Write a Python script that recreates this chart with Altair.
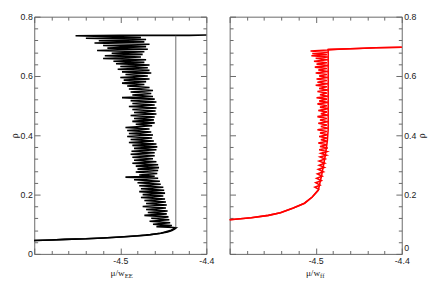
import altair as alt
import pandas as pd

W = 177
H = 244
SANS = "Liberation Sans"
SERIF = "Liberation Serif"
AX = "#666666"
TXT = "#222222"

X_LABELS = [-4.5, -4.4]
X_TICKS = [-4.6, -4.58, -4.56, -4.54, -4.52, -4.5, -4.48, -4.46, -4.44, -4.42, -4.4]
Y_LABELS = [0, 0.2, 0.4, 0.6, 0.8]
Y_TICKS = [0, 0.04, 0.08, 0.12, 0.16, 0.2, 0.24, 0.28, 0.32, 0.36, 0.4, 0.44, 0.48,
           0.52, 0.56, 0.6, 0.64, 0.68, 0.72, 0.76, 0.8]

# ---- left panel (black) ----
LEFT_ADS_MU = [-4.600, -4.580, -4.564, -4.540, -4.520, -4.500, -4.490, -4.470, -4.453,
               -4.445, -4.440, -4.4365, -4.435]
LEFT_ADS_RHO = [0.045, 0.047, 0.049, 0.051, 0.054, 0.057, 0.059, 0.063, 0.070,
                0.074, 0.079, 0.084, 0.090]
LEFT_JUMP_MU = [-4.4355, -4.4355]
LEFT_JUMP_RHO = [0.090, 0.736]

LEFT_DES_MU = [
    -4.400, -4.420, -4.450, -4.500, -4.552,
    -4.476, -4.540, -4.470, -4.525, -4.472, -4.530, -4.466, -4.520, -4.470, -4.515,
    -4.468, -4.527, -4.472, -4.510, -4.474, -4.518, -4.476, -4.520, -4.470, -4.508,
    -4.472, -4.505, -4.466, -4.500, -4.468, -4.503, -4.466, -4.498, -4.464, -4.494,
    -4.468, -4.500, -4.466, -4.496, -4.470, -4.498, -4.472, -4.492, -4.466, -4.490,
    -4.462, -4.488, -4.464, -4.486, -4.462, -4.498, -4.460, -4.488, -4.458, -4.486,
    -4.460, -4.490, -4.458, -4.486, -4.459, -4.484, -4.458, -4.488, -4.460, -4.484,
    -4.461, -4.486, -4.460, -4.482, -4.463, -4.494, -4.466, -4.492, -4.464, -4.490,
    -4.462, -4.492, -4.463, -4.488, -4.461, -4.490, -4.458, -4.486, -4.457, -4.484,
    -4.458, -4.487, -4.460, -4.488, -4.460, -4.486, -4.462, -4.484, -4.458, -4.486,
    -4.456, -4.482, -4.455, -4.480, -4.456, -4.482, -4.457, -4.478, -4.460, -4.494,
    -4.456, -4.484, -4.454, -4.480, -4.453, -4.478, -4.450, -4.476, -4.449, -4.478,
    -4.448, -4.474, -4.450, -4.476, -4.448, -4.472, -4.447, -4.470, -4.446, -4.474,
    -4.447, -4.470, -4.445, -4.468, -4.446, -4.472, -4.444, -4.464, -4.443, -4.466,
    -4.442, -4.462, -4.440, -4.458, -4.438,
    -4.4355, -4.441, -4.447, -4.453, -4.465, -4.480, -4.500, -4.520, -4.540, -4.564, -4.580, -4.600]
LEFT_DES_RHO = [
    0.738, 0.737, 0.737, 0.737, 0.736,
    0.730, 0.727, 0.723, 0.719, 0.715, 0.711, 0.707, 0.703, 0.699, 0.694,
    0.690, 0.686, 0.682, 0.677, 0.673, 0.668, 0.664, 0.659, 0.655, 0.650,
    0.646, 0.641, 0.637, 0.632, 0.628, 0.623, 0.619, 0.614, 0.610, 0.605,
    0.600, 0.595, 0.590, 0.586, 0.581, 0.576, 0.571, 0.566, 0.561, 0.556,
    0.551, 0.546, 0.541, 0.536, 0.531, 0.527, 0.522, 0.517, 0.512, 0.507,
    0.502, 0.497, 0.492, 0.487, 0.482, 0.477, 0.472, 0.467, 0.462, 0.457,
    0.452, 0.447, 0.442, 0.437, 0.432, 0.426, 0.421, 0.416, 0.411, 0.406,
    0.401, 0.396, 0.391, 0.386, 0.381, 0.376, 0.371, 0.366, 0.361, 0.356,
    0.351, 0.346, 0.341, 0.336, 0.331, 0.326, 0.321, 0.316, 0.311, 0.306,
    0.301, 0.296, 0.291, 0.286, 0.281, 0.276, 0.271, 0.266, 0.262, 0.259,
    0.255, 0.250, 0.245, 0.240, 0.235, 0.230, 0.225, 0.220, 0.215, 0.210,
    0.205, 0.200, 0.195, 0.190, 0.185, 0.180, 0.175, 0.170, 0.165, 0.160,
    0.155, 0.150, 0.145, 0.140, 0.135, 0.130, 0.125, 0.120, 0.115, 0.110,
    0.105, 0.100, 0.096, 0.092, 0.089,
    0.088, 0.080, 0.075, 0.070, 0.065, 0.061, 0.057, 0.054, 0.051, 0.049, 0.047, 0.045]

# ---- right panel (red) ----
RIGHT_ADS_MU = [-4.600, -4.575, -4.555, -4.541, -4.526, -4.513, -4.504, -4.497, -4.493,
                -4.489, -4.4865, -4.4855, -4.4855, -4.470, -4.450, -4.430, -4.400]
RIGHT_ADS_RHO = [0.115, 0.122, 0.130, 0.139, 0.155, 0.171, 0.192, 0.214, 0.267,
                 0.330, 0.380, 0.420, 0.689, 0.691, 0.693, 0.695, 0.697]

RIGHT_DES_MU = [
    -4.400, -4.430, -4.460, -4.4855,
    -4.486, -4.506, -4.486, -4.504, -4.487, -4.505, -4.486, -4.500, -4.486, -4.502,
    -4.487, -4.499, -4.486, -4.501, -4.487, -4.497, -4.486, -4.500, -4.487, -4.496,
    -4.486, -4.499, -4.487, -4.498, -4.486, -4.500, -4.487, -4.496, -4.486, -4.498,
    -4.487, -4.495, -4.486, -4.499, -4.487, -4.496, -4.486, -4.498, -4.487, -4.495,
    -4.486, -4.497, -4.487, -4.494, -4.486, -4.498, -4.487, -4.495, -4.486, -4.497,
    -4.487, -4.494, -4.486, -4.498, -4.487, -4.495, -4.486, -4.496, -4.487, -4.494,
    -4.486, -4.497, -4.487, -4.495, -4.486, -4.496, -4.487, -4.494,
    -4.4875, -4.495, -4.489, -4.496, -4.4895, -4.496, -4.490, -4.497, -4.491, -4.498,
    -4.4925, -4.499, -4.4935, -4.500, -4.495, -4.501, -4.4965,
    -4.504, -4.513, -4.526, -4.541, -4.555, -4.575, -4.600]
RIGHT_DES_RHO = [
    0.697, 0.695, 0.692, 0.689,
    0.688, 0.684, 0.680, 0.676, 0.672, 0.668, 0.664, 0.660, 0.655, 0.650,
    0.645, 0.640, 0.635, 0.630, 0.625, 0.620, 0.615, 0.610, 0.605, 0.600,
    0.595, 0.590, 0.585, 0.579, 0.574, 0.569, 0.564, 0.558, 0.553, 0.548,
    0.543, 0.537, 0.532, 0.527, 0.522, 0.516, 0.511, 0.506, 0.500, 0.495,
    0.490, 0.484, 0.479, 0.473, 0.468, 0.463, 0.457, 0.452, 0.446, 0.441,
    0.435, 0.430, 0.424, 0.419, 0.413, 0.408, 0.402, 0.396, 0.391, 0.385,
    0.380, 0.374, 0.368, 0.362, 0.357, 0.351, 0.345, 0.339,
    0.333, 0.327, 0.320, 0.313, 0.306, 0.299, 0.292, 0.285, 0.277, 0.270,
    0.262, 0.255, 0.247, 0.240, 0.232, 0.225, 0.218,
    0.192, 0.171, 0.155, 0.139, 0.130, 0.122, 0.115]


def table(*branches):
    rows = []
    for name, mus, rhos in branches:
        for i, (m, r) in enumerate(zip(mus, rhos)):
            rows.append({"mu": m, "rho": r, "branch": name, "i": i})
    return pd.DataFrame(rows)


X_MAJOR = "abs(datum.value*10 - round(datum.value*10)) < 0.01"
Y_MAJOR = "abs(datum.value*5 - round(datum.value*5)) < 0.01"


def tick_axis(orient, values, test, offset):
    return alt.Axis(orient=orient, offset=offset, values=values, labels=False,
                    domain=False, grid=False, title=None, ticks=True,
                    tickColor=AX, tickWidth=1,
                    tickSize={"condition": {"test": test, "value": 6}, "value": 3.5})


def panel(df, color, side, sub, jump=None):
    xs = alt.Scale(domain=[-4.6, -4.4], nice=False, zero=False)
    ys = alt.Scale(domain=[0, 0.8], nice=False, zero=False)
    lab_x = alt.Axis(orient="bottom", values=X_LABELS, labelExpr="toString(datum.value)",
                     ticks=False, domain=False, grid=False, labelFlush=False,
                     labelPadding=3, labelFont=SANS, labelFontSize=9, labelColor=TXT,
                     title="μ/w", titleFont=SERIF, titleFontSize=9.5,
                     titleFontWeight="normal", titleColor=TXT, titleAlign="right",
                     titleBaseline="top", titleX=W / 2 + 4, titleY=14)
    y_kwargs = dict(orient=side, values=Y_LABELS, labelExpr="toString(datum.value)",
                    ticks=False, domain=False, grid=False, labelPadding=2,
                    labelFont=SANS, labelFontSize=9, labelColor=TXT,
                    title="ρ", titleFont=SERIF, titleFontSize=10,
                    titleFontWeight="normal", titleColor=TXT, titlePadding=1)
    if side == "right":
        y_kwargs["titleAngle"] = 270
        y_kwargs["titleBaseline"] = "top"
        y_kwargs["labelOffset"] = {"condition": {"test": "datum.value == 0", "value": -6},
                                   "value": 0}
    lab_y = alt.Axis(**y_kwargs)
    enc_common = dict(detail="branch:N", order="i:Q")
    line = alt.Chart(df).mark_line(color=color, strokeWidth=1.6).encode(
        x=alt.X("mu:Q", scale=xs, axis=lab_x),
        y=alt.Y("rho:Q", scale=ys, axis=lab_y), **enc_common)
    ticks_a = alt.Chart(df).mark_line(strokeOpacity=0).encode(
        x=alt.X("mu:Q", scale=xs, axis=tick_axis("top", X_TICKS, X_MAJOR, -H)),
        y=alt.Y("rho:Q", scale=ys, axis=tick_axis("right", Y_TICKS, Y_MAJOR, -W)),
        **enc_common)
    ticks_b = alt.Chart(df).mark_line(strokeOpacity=0).encode(
        x=alt.X("mu:Q", scale=xs, axis=tick_axis("bottom", X_TICKS, X_MAJOR, -H)),
        y=alt.Y("rho:Q", scale=ys, axis=tick_axis("left", Y_TICKS, Y_MAJOR, -W)),
        **enc_common)
    subscript = alt.Chart(pd.DataFrame({"t": [sub]})).mark_text(
        align="left", baseline="alphabetic", font=SERIF, fontSize=7, color=TXT
    ).encode(x=alt.value(W / 2 + 4.5), y=alt.value(H + 25), text="t:N")
    layers = [line, ticks_a, ticks_b, subscript]
    if jump is not None:
        layers.append(alt.Chart(jump).mark_line(color="#777777", strokeWidth=1.1).encode(
            x=alt.X("mu:Q", scale=xs, axis=None), y=alt.Y("rho:Q", scale=ys, axis=None),
            order="i:Q"))
    return alt.layer(*layers).resolve_axis(
        x="independent", y="independent").properties(width=W, height=H)


left = panel(table(("ads", LEFT_ADS_MU, LEFT_ADS_RHO), ("des", LEFT_DES_MU, LEFT_DES_RHO)),
             "#000000", "left", "EE",
             jump=table(("jump", LEFT_JUMP_MU, LEFT_JUMP_RHO)))
right = panel(table(("ads", RIGHT_ADS_MU, RIGHT_ADS_RHO), ("des", RIGHT_DES_MU, RIGHT_DES_RHO)),
              "#ff0000", "right", "ff")

chart = alt.hconcat(left, right, spacing=11).properties(
    padding={"left": 0, "top": 0, "right": 0, "bottom": 0}, background="white"
).configure_view(stroke=AX, strokeWidth=1)

chart.save("out.html", embed_options={"renderer": "svg", "actions": False})
